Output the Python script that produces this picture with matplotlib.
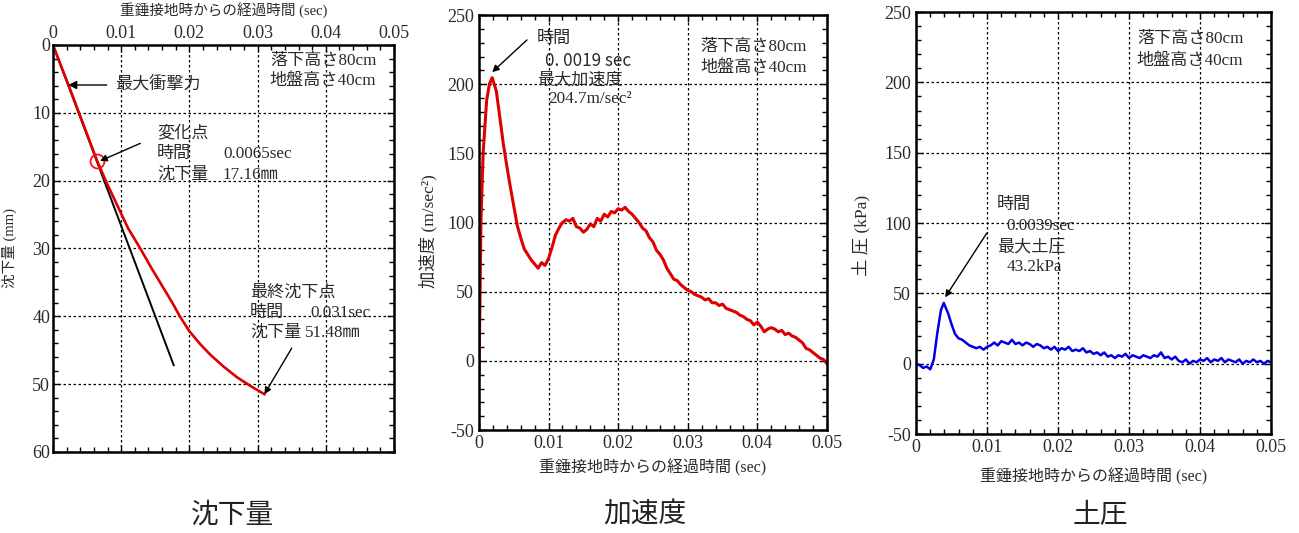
import numpy as np
import matplotlib
matplotlib.use("Agg")
import matplotlib.pyplot as plt
from matplotlib.ticker import MultipleLocator

plt.rcParams['font.family'] = ['Liberation Serif', 'Noto Sans CJK JP']
plt.rcParams['axes.unicode_minus'] = False

# --- settlement (mm) vs time (sec)
settle_t = [0, 0.0025, 0.0065, 0.0080, 0.0095, 0.0110, 0.0128, 0.0145, 0.0160,
            0.0175, 0.0186, 0.0200, 0.0215, 0.0230, 0.0250, 0.0270, 0.0290, 0.0310]
settle_d = [0, 6.5, 17.16, 20.6, 23.8, 27.0, 30.0, 33.0, 35.5,
            38.0, 40.0, 42.2, 44.0, 45.6, 47.4, 49.0, 50.3, 51.48]
tangent_t = [0, 0.0177]
tangent_d = [0, 47.2]
change_t, change_d = 0.0065, 17.16
final_t, final_d = 0.031, 51.48

# --- acceleration (m/sec^2), time in ms
acc_ms = [0.0, 0.3, 0.6, 1.1, 1.5, 1.9, 2.5, 3.0, 3.5, 4.0,
          4.5, 5.0, 5.5, 6.0, 6.5, 7.0, 7.5, 8.0, 8.5, 9.0,
          9.5, 10.0, 10.5, 11.0, 11.5, 12.0, 12.5, 13.0, 13.5, 14.0,
          14.5, 15.0, 15.5, 16.0, 16.5, 17.0, 17.5, 18.0, 18.5, 19.0,
          19.5, 20.0, 20.5, 21.0, 21.5, 22.0, 22.5, 23.0, 23.5, 24.0,
          24.5, 25.0, 25.5, 26.0, 26.5, 27.0, 27.5, 28.0, 28.5, 29.0,
          29.5, 30.0, 30.5, 31.0, 31.5, 32.0, 32.5, 33.0, 33.5, 34.0,
          34.5, 35.0, 35.5, 36.0, 36.5, 37.0, 37.5, 38.0, 38.5, 39.0,
          39.5, 40.0, 40.5, 41.0, 41.5, 42.0, 42.5, 43.0, 43.5, 44.0,
          44.5, 45.0, 45.5, 46.0, 46.5, 47.0, 47.5, 48.0, 48.5, 49.0,
          49.5, 50.0]
acc_v = [-10, 104, 150, 188, 200, 204.7, 195, 176, 157, 141,
         126, 112, 98, 89, 81, 77, 73, 70, 67, 71,
         69, 74, 82, 91, 96, 100, 102, 101, 103, 97,
         96, 93, 95, 99, 97, 103, 101, 106, 104, 108,
         107, 110, 109, 111, 108, 106, 103, 100, 96, 94,
         89, 86, 80, 77, 73, 67, 63, 59, 58, 55,
         53, 51, 50, 48, 47, 46, 44, 45, 42, 42,
         40, 41, 38, 37, 36, 35, 33, 32, 30, 29,
         26, 28, 25, 21, 23, 24, 23, 21, 22, 19,
         20, 18, 17, 15, 13, 9, 8, 6, 4, 2,
         1, -2]
acc_peak_t, acc_peak_v = 0.0019, 204.7

# --- earth pressure (kPa), time in ms
prs_ms = [0.0, 0.5, 1.0, 1.5, 2.0, 2.5, 3.0, 3.5, 3.9, 4.5,
          5.0, 5.5, 6.0, 6.5, 7.0, 7.5, 8.0, 8.5, 9.0, 9.5,
          10.0, 10.5, 11.0, 11.5, 12.0, 12.5, 13.0, 13.5, 14.0, 14.5,
          15.0, 15.5, 16.0, 16.5, 17.0, 17.5, 18.0, 18.5, 19.0, 19.5,
          20.0, 20.5, 21.0, 21.5, 22.0, 22.5, 23.0, 23.5, 24.0, 24.5,
          25.0, 25.5, 26.0, 26.5, 27.0, 27.5, 28.0, 28.5, 29.0, 29.5,
          30.0, 30.5, 31.0, 31.5, 32.0, 32.5, 33.0, 33.5, 34.0, 34.5,
          35.0, 35.5, 36.0, 36.5, 37.0, 37.5, 38.0, 38.5, 39.0, 39.5,
          40.0, 40.5, 41.0, 41.5, 42.0, 42.5, 43.0, 43.5, 44.0, 44.5,
          45.0, 45.5, 46.0, 46.5, 47.0, 47.5, 48.0, 48.5, 49.0, 49.5,
          50.0]
prs_v = [0, -1, -3, -2, -4, 3, 22, 38, 43.2, 36,
         28, 21, 18, 17, 15, 13, 12, 11, 12, 10,
         12, 13, 15, 13, 16, 15, 14, 17, 14, 15,
         13, 15, 14, 12, 14, 13, 11, 12, 10, 12,
         9, 11, 10, 12, 9, 10, 9, 11, 8, 9,
         7, 8, 6, 8, 5, 6, 4, 6, 5, 7,
         4, 6, 5, 4, 6, 5, 4, 6, 5, 8,
         4, 5, 3, 5, 2, 1, 3, 0, 2, 1,
         3, 2, 4, 1, 3, 2, 4, 1, 3, 2,
         1, 3, 0, 2, 1, 3, 1, 2, 0, 2,
         1]
prs_peak_t, prs_peak_v = 0.0039, 43.2

time_label = '重錘接地時からの経過時間 (sec)'
cond_lines = ['落下高さ80cm', '地盤高さ40cm']
txt_color = '#2a2a2a'
red = '#dc0000'
blue = '#0000e6'
fs = 12.3


def style_axes(ax, ymajor, yminor):
    ax.set_xlim(0, 0.05)
    ax.xaxis.set_major_locator(MultipleLocator(0.01))
    ax.xaxis.set_minor_locator(MultipleLocator(0.002))
    ax.yaxis.set_major_locator(MultipleLocator(ymajor))
    ax.yaxis.set_minor_locator(MultipleLocator(yminor))
    ax.xaxis.set_major_formatter(lambda v, p: '0' if abs(v) < 1e-9 else ('%.2f' % v))
    ax.tick_params(which='both', direction='in', top=True, right=True,
                   colors='black', labelcolor=txt_color, labelsize=13)
    ax.tick_params(which='major', length=5, width=1)
    ax.tick_params(which='minor', length=3.5, width=1)
    ax.grid(True, which='major', color='black', linestyle=(0, (2, 2)), linewidth=0.9)
    for s in ax.spines.values():
        s.set_linewidth(1.8)


def note(ax, x, y, s, **kw):
    ax.text(x, y, s, fontsize=fs, color=txt_color, va='center', **kw)


fig = plt.figure(figsize=(12.99, 5.33), dpi=100)

# settlement
ax1 = fig.add_axes([0.0408, 0.152, 0.2625, 0.7636])
style_axes(ax1, 10, 2)
ax1.set_ylim(60, 0)
ax1.tick_params(labeltop=True, labelbottom=False, pad=2)
ax1.xaxis.set_label_position('top')
ax1.set_xlabel(time_label, fontsize=10.5, color=txt_color)
ax1.xaxis.set_label_coords(0.5, 1.075)
ax1.set_ylabel('沈下量 (mm)', fontsize=10.5, color=txt_color)
ax1.yaxis.set_label_coords(-0.105, 0.5)
ax1.plot(tangent_t, tangent_d, color='black', linewidth=1.4)
ax1.plot(settle_t, settle_d, color=red, linewidth=1.9)
ax1.plot([change_t], [change_d], marker='o', markersize=10, markerfacecolor='none',
         markeredgecolor='#ff1010', markeredgewidth=1.3)
ax1.annotate('最大衝撃力', xy=(0.00224, 5.9), xytext=(0.0091, 5.9), fontsize=fs,
             color=txt_color, va='center',
             arrowprops=dict(arrowstyle='-|>', color='black', lw=1, shrinkA=4, shrinkB=0))
ax1.annotate('', xy=(0.0069, 17.1), xytext=(0.0128, 14.5),
             arrowprops=dict(arrowstyle='-|>', color='black', lw=1, shrinkA=0, shrinkB=0))
note(ax1, 0.01525, 13.0, '変化点')
note(ax1, 0.01525, 16.1, '時間')
note(ax1, 0.02493, 16.1, '%.4fsec' % change_t)
note(ax1, 0.01525, 19.1, '沈下量')
note(ax1, 0.02493, 19.1, '%.2f㎜' % change_d)
ax1.annotate('', xy=(final_t, final_d), xytext=(0.035, 44.7),
             arrowprops=dict(arrowstyle='-|>', color='black', lw=1, shrinkA=0, shrinkB=0))
note(ax1, 0.0289, 36.5, '最終沈下点')
note(ax1, 0.0289, 39.5, '時間')
note(ax1, 0.0377, 39.5, '%.3fsec' % final_t)
note(ax1, 0.0289, 42.4, '沈下量')
note(ax1, 0.0369, 42.4, '%.2f㎜' % final_d)
note(ax1, 0.0318, 2.3, cond_lines[0])
note(ax1, 0.0318, 5.3, cond_lines[1])

# acceleration
ax2 = fig.add_axes([0.3687, 0.1932, 0.2679, 0.7786])
style_axes(ax2, 50, 10)
ax2.set_ylim(-50, 250)
ax2.plot(np.array(acc_ms) / 1000.0, acc_v, color=red, linewidth=2.2)
ax2.set_xlabel(time_label, fontsize=11.5, color=txt_color)
ax2.xaxis.set_label_coords(0.5, -0.07)
ax2.set_ylabel('加速度 (m/sec²)', fontsize=12.5, color=txt_color)
ax2.yaxis.set_label_coords(-0.12, 0.48)
ax2.annotate('', xy=(acc_peak_t, acc_peak_v + 4), xytext=(0.0069, 232),
             arrowprops=dict(arrowstyle='-|>', color='black', lw=1, shrinkA=0, shrinkB=0))
note(ax2, 0.0083, 232.4, '時間')
note(ax2, 0.0095, 217, '0. %s sec' % ('%.4f' % acc_peak_t)[2:], family=['Noto Sans CJK JP'])
note(ax2, 0.0083, 202.5, '最大加速度')
note(ax2, 0.0100, 189, '%.1fm/sec²' % acc_peak_v)
note(ax2, 0.0318, 227, cond_lines[0])
note(ax2, 0.0318, 211.5, cond_lines[1])

# earth pressure
ax3 = fig.add_axes([0.7052, 0.1857, 0.2733, 0.7917])
style_axes(ax3, 50, 10)
ax3.set_ylim(-50, 250)
ax3.plot(np.array(prs_ms) / 1000.0, prs_v, color=blue, linewidth=1.8)
ax3.set_xlabel(time_label, fontsize=11.5, color=txt_color)
ax3.xaxis.set_label_coords(0.5, -0.08)
ax3.set_ylabel('土 圧 (kPa)', fontsize=12.5, color=txt_color)
ax3.yaxis.set_label_coords(-0.13, 0.47)
ax3.annotate('', xy=(prs_peak_t + 0.0002, prs_peak_v + 4), xytext=(0.00996, 92.8),
             arrowprops=dict(arrowstyle='-|>', color='black', lw=1, shrinkA=0, shrinkB=0))
note(ax3, 0.01137, 112.7, '時間')
note(ax3, 0.01277, 97.7, '%.4fsec' % prs_peak_t)
note(ax3, 0.01137, 83, '最大土圧')
note(ax3, 0.01277, 68.7, '%.1fkPa' % prs_peak_v)
note(ax3, 0.0311, 231, cond_lines[0])
note(ax3, 0.0311, 215.5, cond_lines[1])

# panel captions
cap_kw = dict(fontsize=20, ha='center', va='center', color='#222222',
              family=['Noto Sans CJK JP'])
fig.text(232 / 1299, 1 - 515 / 533, '沈下量', **cap_kw)
fig.text(645 / 1299, 1 - 515 / 533, '加速度', **cap_kw)
fig.text(1100 / 1299, 1 - 515 / 533, '土圧', **cap_kw)

fig.savefig('out.png', dpi=100)
